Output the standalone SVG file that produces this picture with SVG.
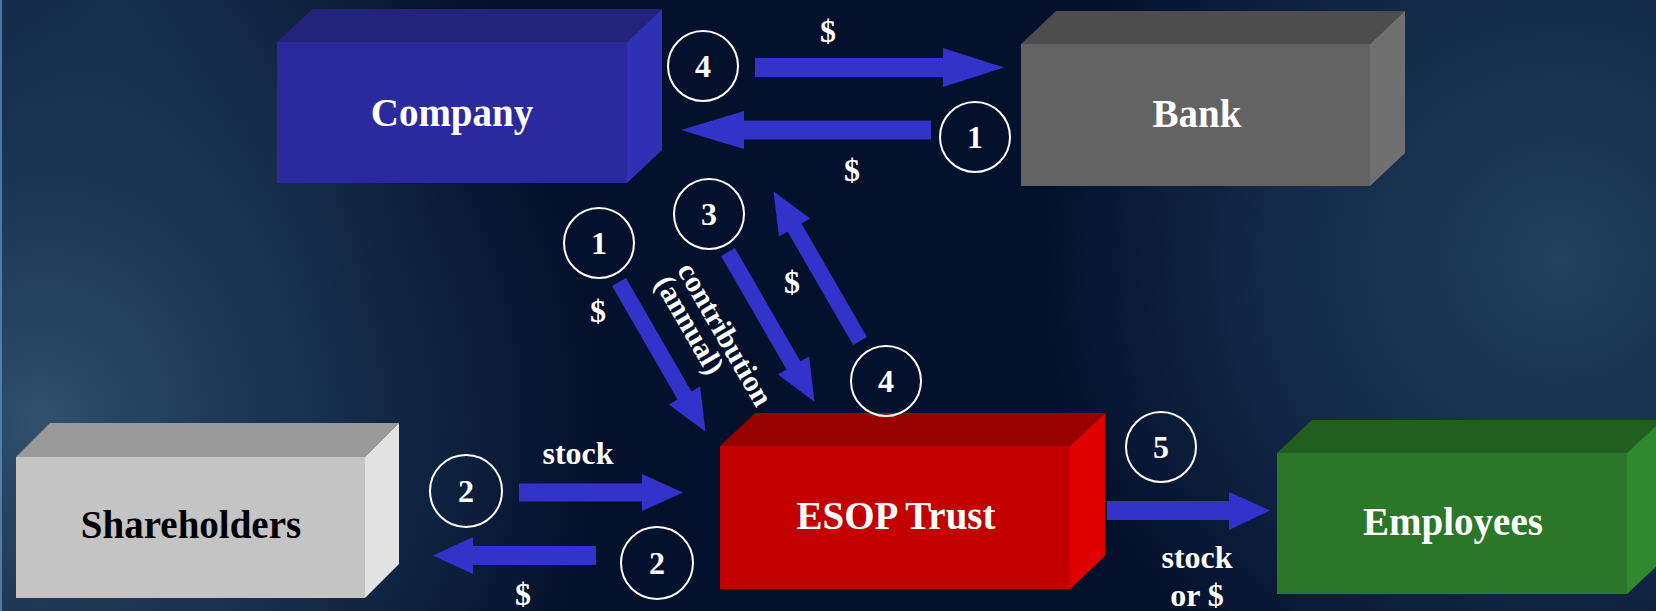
<svg xmlns="http://www.w3.org/2000/svg" width="1656" height="611" viewBox="0 0 1656 611">
  <defs>
    <radialGradient id="glowLeft" cx="40" cy="420" r="560" gradientUnits="userSpaceOnUse">
      <stop offset="0" stop-color="#30506c" stop-opacity="1"/>
      <stop offset="0.5" stop-color="#1f3d5c" stop-opacity="0.7"/>
      <stop offset="1" stop-color="#1f3d5c" stop-opacity="0"/>
    </radialGradient>
    <radialGradient id="glowRight" cx="1560" cy="260" r="520" gradientUnits="userSpaceOnUse">
      <stop offset="0" stop-color="#22415f" stop-opacity="1"/>
      <stop offset="0.55" stop-color="#1a3556" stop-opacity="0.7"/>
      <stop offset="1" stop-color="#1a3556" stop-opacity="0"/>
    </radialGradient>
    <radialGradient id="glowTopLeft" cx="120" cy="0" r="380" gradientUnits="userSpaceOnUse">
      <stop offset="0" stop-color="#142a4a" stop-opacity="0.9"/>
      <stop offset="1" stop-color="#142a4a" stop-opacity="0"/>
    </radialGradient>
    <style>
      .lbl { font-family: "Liberation Serif", "Times New Roman", serif; font-weight: bold; font-size: 39px; text-anchor: middle; fill: #ffffff; }
      .small { font-family: "Liberation Serif", "Times New Roman", serif; font-weight: bold; font-size: 32px; text-anchor: middle; fill: #ffffff; }
      .rot { font-family: "Liberation Serif", "Times New Roman", serif; font-weight: bold; font-size: 30px; fill: #ffffff; }
      .ring { fill: none; stroke: #ffffff; stroke-width: 2; }
      .arrow { fill: #3333cc; }
    </style>
    <!-- slanted arrow drawn along +x, 173 long -->
    <polygon id="diagArrow" points="0,-8 131,-8 131,-18 173,0 131,18 131,8 0,8"/>
  </defs>

  <!-- background -->
  <rect width="1656" height="611" fill="#04112c"/>
  <rect width="1656" height="611" fill="url(#glowTopLeft)"/>
  <rect width="1656" height="611" fill="url(#glowLeft)"/>
  <rect width="1656" height="611" fill="url(#glowRight)"/>
  <rect x="0" y="0" width="2" height="611" fill="#5b8bb8" opacity="0.8"/>

  <!-- blocks -->
  <g id="company">
    <polygon points="277,42 312,9 662,9 627,42" fill="#232379"/>
    <polygon points="627,42 662,9 662,150 627,183" fill="#3030b4"/>
    <rect x="277" y="42" width="350" height="141" fill="#2a2a9e"/>
    <text class="lbl" x="452" y="126">Company</text>
  </g>

  <g id="bank">
    <polygon points="1021,44 1056,11 1405,11 1370,44" fill="#4d4d4d"/>
    <polygon points="1370,44 1405,11 1405,153 1370,186" fill="#707070"/>
    <rect x="1021" y="44" width="349" height="142" fill="#636363"/>
    <text class="lbl" x="1197" y="127">Bank</text>
  </g>

  <g id="shareholders">
    <polygon points="16,457 50,423 399,423 365,457" fill="#9a9a9a"/>
    <polygon points="365,457 399,423 399,564 365,598" fill="#e2e2e2"/>
    <rect x="16" y="457" width="349" height="141" fill="#c4c4c4"/>
    <text class="lbl" x="191" y="538" fill="#000000" style="fill:#000000">Shareholders</text>
  </g>

  <g id="esop-trust">
    <polygon points="720,446 755,413 1105,413 1070,446" fill="#990000"/>
    <polygon points="1070,446 1105,413 1105,556 1070,589" fill="#e00000"/>
    <rect x="720" y="446" width="350" height="143" fill="#c20000"/>
    <text class="lbl" x="896" y="529">ESOP Trust</text>
  </g>

  <g id="employees">
    <polygon points="1277,453 1312,420 1662,420 1627,453" fill="#205f20"/>
    <polygon points="1627,453 1662,420 1662,561 1627,594" fill="#2f8a2f"/>
    <rect x="1277" y="453" width="350" height="141" fill="#2a772a"/>
    <text class="lbl" x="1453" y="535">Employees</text>
  </g>

  <!-- flows between blocks -->
  <g id="connectors">
    <polygon class="arrow" points="755,58 943,58 943,48 1004,67.5 943,87 943,77 755,77"/>
    <polygon class="arrow" points="931,120.5 744,120.5 744,111 681,130 744,149 744,139.5 931,139.5"/>
    <use href="#diagArrow" class="arrow" transform="translate(619,282) rotate(60)"/>
    <use href="#diagArrow" class="arrow" transform="translate(728,252) rotate(60)"/>
    <use href="#diagArrow" class="arrow" transform="translate(860,341) rotate(240)"/>
    <polygon class="arrow" points="519,483.5 642,483.5 642,474 683,492.5 642,511 642,501.5 519,501.5"/>
    <polygon class="arrow" points="596,546 473,546 473,537 433,555.5 473,574 473,565 596,565"/>
    <polygon class="arrow" points="1107,501 1229,501 1229,492 1270,510.5 1229,530 1229,520 1107,520"/>
  </g>

  <!-- step numbers -->
  <g id="steps">
    <circle class="ring" cx="703" cy="66" r="35"/>
    <text class="small" x="703" y="77">4</text>
    <circle class="ring" cx="975" cy="137" r="35"/>
    <text class="small" x="975" y="148">1</text>
    <circle class="ring" cx="599" cy="243" r="35"/>
    <text class="small" x="599" y="254">1</text>
    <circle class="ring" cx="709" cy="214" r="35"/>
    <text class="small" x="709" y="225">3</text>
    <circle class="ring" cx="886" cy="381" r="35"/>
    <text class="small" x="886" y="392">4</text>
    <circle class="ring" cx="466" cy="491" r="36"/>
    <text class="small" x="466" y="502">2</text>
    <circle class="ring" cx="657" cy="563" r="36"/>
    <text class="small" x="657" y="574">2</text>
    <circle class="ring" cx="1161" cy="447" r="35"/>
    <text class="small" x="1161" y="458">5</text>
  </g>

  <!-- flow labels -->
  <g id="labels">
    <text class="small" x="828" y="42">$</text>
    <text class="small" x="852" y="181">$</text>
    <text class="small" x="598" y="322">$</text>
    <text class="small" x="792" y="293">$</text>
    <text class="small" x="578" y="464">stock</text>
    <text class="small" x="523" y="605">$</text>
    <text class="small" x="1197" y="568">stock</text>
    <text class="small" x="1197" y="606">or $</text>
    <g transform="rotate(60)">
      <text class="rot" x="572" y="-451">contribution</text>
      <text class="rot" x="572" y="-425">(annual)</text>
    </g>
  </g>
</svg>
